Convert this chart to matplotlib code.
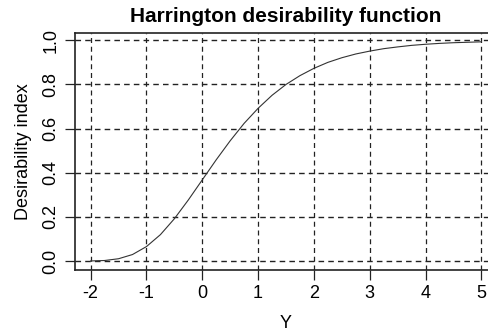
import matplotlib.pyplot as plt
import numpy as np

plt.rcParams['font.family'] = ['Liberation Sans', 'DejaVu Sans']

# Y values and desirability
y_vals = [-2.00, -1.75, -1.50, -1.25, -1.00, -0.75, -0.50, -0.25,
          0.00, 0.25, 0.50, 0.75, 1.00, 1.25, 1.50, 1.75,
          2.00, 2.25, 2.50, 2.75, 3.00, 3.25, 3.50, 3.75,
          4.00, 4.25, 4.50, 4.75, 5.00]
desirability = [0.001, 0.003, 0.011, 0.030, 0.066, 0.120, 0.192, 0.277,
                0.368, 0.459, 0.545, 0.624, 0.692, 0.751, 0.800, 0.840,
                0.873, 0.900, 0.921, 0.938, 0.951, 0.962, 0.970, 0.977,
                0.982, 0.986, 0.989, 0.991, 0.993]
x_ticks = [-2, -1, 0, 1, 2, 3, 4, 5]
y_ticks = [0.0, 0.2, 0.4, 0.6, 0.8, 1.0]

W, H = 489, 336
fig = plt.figure(figsize=(W / 100, H / 100), dpi=100)
# plot box: left 75px, right 497px (runs off the figure), top 33px, bottom 270px
ax = fig.add_axes([75 / W, 1 - 270 / H, (497 - 75) / W, (270 - 33) / H])

ax.plot(y_vals, desirability, color='#333333', lw=0.8)

ax.set_xlim(-2.28, 5.28)
ax.set_ylim(-0.04, 1.033)

# dashed grid, R style
for xt in x_ticks:
    ax.axvline(xt, color='#222222', lw=0.9, ls=(0, (4, 3)), zorder=0)
for yt in y_ticks:
    ax.axhline(yt, color='#222222', lw=1.0, ls=(0, (4, 3)), zorder=0)

ax.set_xticks(x_ticks)
ax.set_xticklabels([str(t) for t in x_ticks])
ax.set_yticks(y_ticks)
ax.set_yticklabels([f"{t:.1f}" for t in y_ticks], rotation=90, va='center')
ax.tick_params(axis='both', direction='out', length=7, width=0.9,
               color='#222222', labelsize=13, pad=4)

ax.spines['right'].set_visible(False)
for s in ['left', 'top', 'bottom']:
    ax.spines[s].set_linewidth(1.2)
    ax.spines[s].set_color('#222222')

ax.set_xlabel("Y", fontsize=13, labelpad=9)
ax.set_ylabel("Desirability index", fontsize=13, labelpad=8)
ax.set_title("Harrington desirability function", fontsize=15,
             fontweight='bold', pad=8)

fig.savefig("out.png", dpi=100)
